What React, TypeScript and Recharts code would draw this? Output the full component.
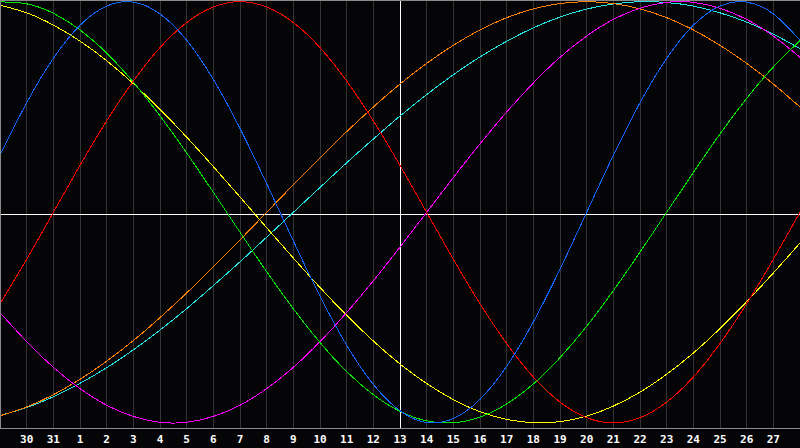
import { LineChart, Line, XAxis, YAxis, CartesianGrid, ReferenceLine } from 'recharts';

// day labels along the bottom, one per column (first and last are off-label edges)
const DAYS = [
  '29', '30', '31', '1', '2', '3', '4', '5', '6', '7', '8', '9', '10', '11', '12', '13',
  '14', '15', '16', '17', '18', '19', '20', '21', '22', '23', '24', '25', '26', '27', '28',
];

// index of the day marked with the white cursor (13)
const TODAY = 15;

const PHYSICAL = [
  27.0, 52.0, 73.1, 88.8, 97.9, 99.8, 94.2, 81.7, 63.1, 39.8, 13.6, -13.6, -39.8, -63.1, -81.7, -94.2,
  -99.8, -97.9, -88.8, -73.1, -52.0, -27.0, 0, 27.0, 52.0, 73.1, 88.8, 97.9, 99.8, 94.2, 81.7,
];
const EMOTIONAL = [
  -43.4, -22.3, 0, 22.3, 43.4, 62.3, 78.2, 90.1, 97.5, 100, 97.5, 90.1, 78.2, 62.3, 43.4, 22.3,
  0, -22.3, -43.4, -62.3, -78.2, -90.1, -97.5, -100, -97.5, -90.1, -78.2, -62.3, -43.4, -22.3, 0,
];
const INTELLECTUAL = [
  99.9, 99.0, 94.5, 86.6, 75.6, 61.8, 45.8, 28.2, 9.5, -9.5, -28.2, -45.8, -61.8, -75.6, -86.6, -94.5,
  -99.0, -99.9, -97.2, -91.0, -81.5, -69.0, -54.1, -37.2, -18.9, 0, 18.9, 37.2, 54.1, 69.0, 81.5,
];
const INTUITIVE = [
  -47.6, -61.4, -73.6, -83.7, -91.6, -96.9, -99.7, -99.7, -96.9, -91.6, -83.7, -73.6, -61.4, -47.6, -32.5, -16.5,
  0, 16.5, 32.5, 47.6, 61.4, 73.6, 83.7, 91.6, 96.9, 99.7, 99.7, 96.9, 91.6, 83.7, 73.6,
];
const AESTHETIC = [
  98.3, 94.7, 88.9, 81.3, 72.0, 61.1, 48.9, 35.7, 21.7, 7.3, -7.3, -21.7, -35.7, -48.9, -61.1, -72.0,
  -81.3, -88.9, -94.7, -98.3, -99.9, -99.4, -96.8, -92.0, -85.4, -76.9, -66.8, -55.2, -42.4, -28.8, -14.6,
];
const AWARENESS = [
  -96.6, -92.4, -86.6, -79.3, -70.7, -60.9, -50.0, -38.3, -25.9, -13.1, 0, 13.1, 25.9, 38.3, 50.0, 60.9,
  70.7, 79.3, 86.6, 92.4, 96.6, 99.1, 100, 99.1, 96.6, 92.4, 86.6, 79.3, 70.7, 60.9, 50.0,
];
const SPIRITUAL = [
  -96.5, -92.7, -87.6, -81.2, -73.8, -65.3, -55.9, -45.7, -34.8, -23.5, -11.8, 0, 11.8, 23.5, 34.8, 45.7,
  55.9, 65.3, 73.8, 81.2, 87.6, 92.7, 96.5, 98.9, 100.0, 99.6, 97.9, 94.7, 90.3, 84.6, 77.7,
];

const data = DAYS.map((day, i) => ({
  x: i,
  day,
  physical: PHYSICAL[i],
  emotional: EMOTIONAL[i],
  intellectual: INTELLECTUAL[i],
  intuitive: INTUITIVE[i],
  aesthetic: AESTHETIC[i],
  awareness: AWARENESS[i],
  spiritual: SPIRITUAL[i],
}));

// labelled ticks: every column except the two edges
const ticks = DAYS.map((_, i) => i).filter(i => i > 0 && i < DAYS.length - 1);

const SERIES = [
  { key: 'spiritual', color: '#22e4e4' },
  { key: 'awareness', color: '#ff8000' },
  { key: 'aesthetic', color: '#ffff00' },
  { key: 'intuitive', color: '#ff00ff' },
  { key: 'intellectual', color: '#00e800' },
  { key: 'emotional', color: '#ff0000' },
  { key: 'physical', color: '#1464ff' },
];

const DayTick = ({ x, payload }: any) => (
  <text
    x={x}
    y={443}
    fill="#ffffff"
    fontFamily="'DejaVu Sans Mono', monospace"
    fontWeight="bold"
    fontSize={11}
    textAnchor="middle"
  >
    {DAYS[payload.value]}
  </text>
);

export default function App() {
  return (
    <div style={{ position: 'fixed', left: 0, top: 0, width: 800, height: 448, background: '#050508' }}>
      <style>{`
        .recharts-line-curve, .recharts-cartesian-grid line, .recharts-reference-line line { shape-rendering: crispEdges; }
      `}</style>
      <LineChart width={800} height={448} data={data} margin={{ top: 0, right: 0, bottom: 0, left: 0 }}>
        <CartesianGrid horizontal={false} stroke="#333333" />
        <XAxis
          dataKey="x"
          type="number"
          domain={[0, DAYS.length - 1]}
          ticks={ticks}
          interval={0}
          height={20}
          axisLine={false}
          tickLine={false}
          tick={<DayTick />}
        />
        <YAxis hide domain={[-102.4, 100.8]} allowDataOverflow />
        <ReferenceLine x={TODAY} stroke="#ffffff" />
        <ReferenceLine y={-1} stroke="#ffffff" />
        {SERIES.map(s => (
          <Line
            key={s.key}
            dataKey={s.key}
            type="natural"
            stroke={s.color}
            strokeWidth={1}
            dot={false}
            activeDot={false}
            isAnimationActive={false}
          />
        ))}
      </LineChart>
      <div
        style={{
          position: 'absolute',
          left: 0,
          top: 0,
          width: 800,
          height: 427,
          borderTop: '1px solid #8a8a8a',
          borderLeft: '1px solid #8a8a8a',
          borderBottom: '1px solid #8a8a8a',
          boxSizing: 'content-box',
          pointerEvents: 'none',
        }}
      />
    </div>
  );
}
